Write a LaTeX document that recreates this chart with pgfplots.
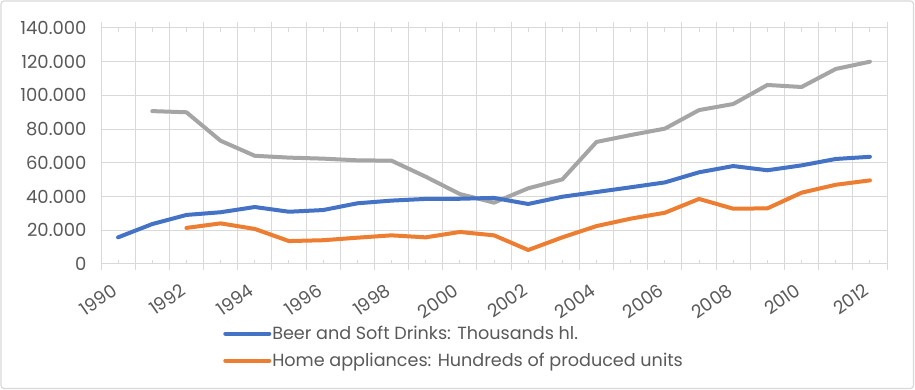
\documentclass[border=0pt]{standalone}
\usepackage{fontspec}
\setmainfont{Poppins}
\usepackage{pgfplots}
\pgfplotsset{compat=1.18}
\definecolor{cblue}{HTML}{4472C4}
\definecolor{corange}{HTML}{ED7D31}
\definecolor{cgray}{HTML}{A5A5A5}
\definecolor{gridc}{HTML}{D9D9D9}
\definecolor{txt}{HTML}{595959}
\begin{document}
\begin{tikzpicture}
\path[use as bounding box] (0pt,0pt) rectangle (915pt,390pt);
\draw[gridc, line width=1.2pt, rounded corners=3pt, fill=white] (1pt,1.5pt) rectangle (913.5pt,389pt);
\begin{axis}[
  at={(101pt,126pt)}, anchor=south west,
  scale only axis, width=786pt, height=236pt,
  xmin=1989.5, xmax=2012.5, ymin=0, ymax=140,
  xtick={1989.5,1990.5,1991.5,1992.5,1993.5,1994.5,1995.5,1996.5,1997.5,1998.5,1999.5,2000.5,2001.5,2002.5,2003.5,2004.5,2005.5,2006.5,2007.5,2008.5,2009.5,2010.5,2011.5,2012.5},
  xticklabels={},
  xtick align=outside, major tick length=6pt,
  xmajorgrids, ymajorgrids,
  grid style={gridc, line width=1pt},
  tick style={gridc, line width=1pt},
  ytick={0,20,40,60,80,100,120,140},
  yticklabels={0,20.000,40.000,60.000,80.000,100.000,120.000,140.000},
  ytick style={draw=none},
  axis line style={gridc, line width=1pt},
  ticklabel style={font=\fontsize{18}{21}\selectfont, text=txt},
  yticklabel style={xshift=-11pt},
  xticklabel style={xshift=-6.8pt, yshift=-18.2pt, rotate=35, anchor=north east, inner sep=0pt},
  extra x ticks={1990,1991,1992,1993,1994,1995,1996,1997,1998,1999,2000,2001,2002,2003,2004,2005,2006,2007,2008,2009,2010,2011,2012},
  extra x tick labels={\llap{1990},,\llap{1992},,\llap{1994},,\llap{1996},,\llap{1998},,\llap{2000},,\llap{2002},,\llap{2004},,\llap{2006},,\llap{2008},,\llap{2010},,\llap{2012}},
  extra x tick style={grid=none, tick align=inside, major tick length=4pt},
  legend style={at={(0.1515,-0.25)}, anchor=north west, draw=none, fill=none,
     font=\fontsize{17.6}{20}\selectfont, text=txt, row sep=10pt,
     nodes={inner sep=1pt}, cells={anchor=west}},
  legend image code/.code={\draw[#1] (0pt,0pt) -- (44pt,0pt);},
  every axis plot/.append style={line width=4pt, line join=round, line cap=round},
]
\addplot[cgray, forget plot] coordinates {
(1991,90.7)(1992,90.0)(1993,73.1)(1994,64.2)(1995,63.1)(1996,62.5)(1997,61.5)(1998,61.3)(1999,51.8)(2000,41.5)(2001,36.4)(2002,44.9)(2003,50.2)(2004,72.4)(2005,76.5)(2006,80.3)(2007,91.3)(2008,94.9)(2009,106.2)(2010,105.0)(2011,115.7)(2012,120.0)};
\addplot[cblue] coordinates {
(1990,15.8)(1991,23.7)(1992,29.1)(1993,30.7)(1994,33.8)(1995,31.0)(1996,32.0)(1997,36.0)(1998,37.6)(1999,38.6)(2000,38.7)(2001,39.2)(2002,35.6)(2003,39.9)(2004,42.7)(2005,45.5)(2006,48.4)(2007,54.4)(2008,58.1)(2009,55.6)(2010,58.5)(2011,62.3)(2012,63.6)};
\addplot[corange] coordinates {
(1992,21.4)(1993,24.1)(1994,20.8)(1995,13.6)(1996,14.1)(1997,15.6)(1998,17.0)(1999,15.8)(2000,19.0)(2001,17.0)(2002,8.3)(2003,15.8)(2004,22.5)(2005,26.9)(2006,30.4)(2007,38.6)(2008,32.8)(2009,33.0)(2010,42.3)(2011,47.0)(2012,49.6)};
\legend{Beer and Soft Drinks: Thousands hl.,Home appliances: Hundreds of produced units}
\end{axis}
\end{tikzpicture}
\end{document}
